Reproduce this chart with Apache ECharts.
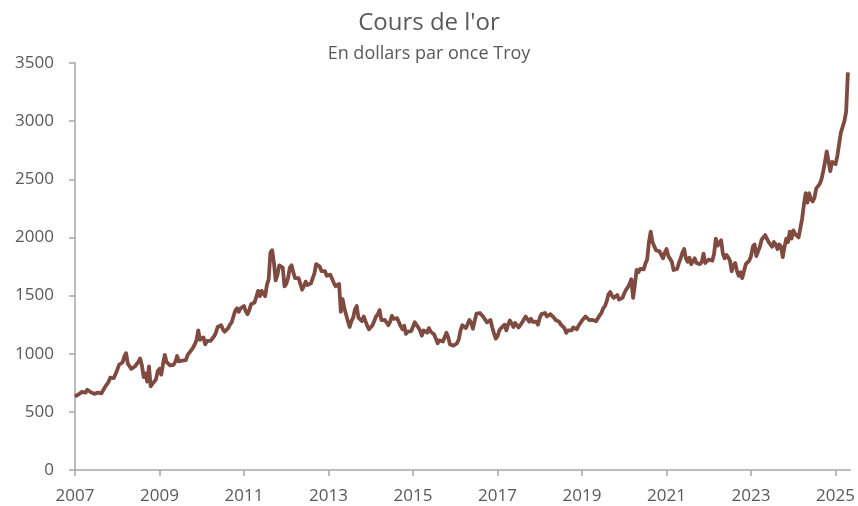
<!DOCTYPE html>
<html>
<head>
<meta charset="utf-8">
<script src="https://cdn.jsdelivr.net/npm/echarts@6/dist/echarts.min.js"></script>
<style>
  html, body { margin: 0; padding: 0; background: #fff; }
  #main { width: 858px; height: 506px; }
</style>
</head>
<body>
<div id="main"></div>
<script>
// cours de l'or, deux relevés par mois (début et milieu de mois), en $/once
const p2007 = [632, 626, 650, 665, 672, 655, 665, 690, 680, 668, 660, 655, 650, 665, 670, 660, 675, 712, 735, 755, 795, 800, 790, 805];
const p2008 = [860, 905, 910, 925, 975, 1005, 915, 920, 870, 880, 890, 880, 930, 960, 900, 800, 830, 760, 890, 720, 740, 740, 780, 850];
const p2009 = [870, 820, 910, 990, 930, 920, 900, 885, 905, 930, 980, 935, 930, 940, 955, 945, 990, 1010, 1000, 1050, 1080, 1115, 1200, 1120];
const p2010 = [1120, 1140, 1080, 1110, 1120, 1110, 1120, 1150, 1180, 1230, 1220, 1245, 1210, 1190, 1185, 1220, 1250, 1270, 1320, 1370, 1390, 1360, 1390, 1390];
const p2011 = [1410, 1365, 1340, 1375, 1425, 1420, 1440, 1490, 1540, 1495, 1540, 1525, 1495, 1590, 1640, 1870, 1890, 1780, 1630, 1680, 1760, 1770, 1740, 1580];
const p2012 = [1600, 1650, 1740, 1760, 1700, 1650, 1640, 1650, 1650, 1550, 1580, 1620, 1590, 1580, 1605, 1615, 1690, 1770, 1775, 1750, 1710, 1720, 1710, 1670];
const p2013 = [1680, 1680, 1670, 1610, 1580, 1590, 1600, 1360, 1470, 1390, 1400, 1280, 1230, 1280, 1310, 1380, 1410, 1310, 1320, 1280, 1320, 1280, 1240, 1210];
const p2014 = [1225, 1245, 1260, 1320, 1340, 1375, 1290, 1300, 1290, 1290, 1245, 1275, 1325, 1300, 1290, 1305, 1270, 1235, 1210, 1240, 1170, 1190, 1200, 1195];
const p2015 = [1185, 1270, 1280, 1225, 1200, 1155, 1200, 1200, 1180, 1220, 1190, 1180, 1165, 1150, 1090, 1115, 1130, 1105, 1115, 1180, 1140, 1080, 1065, 1070];
const p2016 = [1075, 1090, 1125, 1200, 1245, 1235, 1220, 1235, 1290, 1270, 1215, 1280, 1345, 1330, 1350, 1340, 1315, 1320, 1270, 1255, 1290, 1225, 1175, 1130];
const p2017 = [1150, 1200, 1220, 1230, 1250, 1200, 1250, 1285, 1260, 1230, 1265, 1260, 1225, 1230, 1270, 1285, 1320, 1330, 1275, 1300, 1275, 1280, 1275, 1250];
const p2018 = [1310, 1340, 1340, 1350, 1320, 1320, 1340, 1345, 1310, 1290, 1300, 1275, 1250, 1240, 1220, 1180, 1200, 1200, 1200, 1225, 1230, 1210, 1240, 1245];
const p2019 = [1285, 1290, 1320, 1320, 1290, 1300, 1290, 1275, 1280, 1285, 1330, 1350, 1390, 1410, 1450, 1510, 1530, 1500, 1480, 1490, 1505, 1465, 1465, 1480];
const p2020 = [1520, 1550, 1570, 1600, 1640, 1480, 1590, 1720, 1700, 1730, 1740, 1725, 1775, 1810, 1960, 2050, 1960, 1950, 1890, 1900, 1880, 1880, 1820, 1870];
const p2021 = [1900, 1840, 1850, 1790, 1720, 1730, 1730, 1780, 1820, 1870, 1900, 1820, 1790, 1825, 1770, 1785, 1820, 1780, 1765, 1770, 1790, 1860, 1780, 1790];
const p2022 = [1810, 1820, 1800, 1860, 1990, 1930, 1930, 1975, 1860, 1820, 1850, 1830, 1800, 1710, 1760, 1780, 1710, 1670, 1700, 1650, 1640, 1770, 1780, 1800];
const p2023 = [1840, 1920, 1940, 1840, 1840, 1920, 1980, 2000, 2020, 1990, 1960, 1950, 1920, 1960, 1940, 1900, 1940, 1920, 1830, 1920, 1990, 1960, 2050, 1990];
const p2024 = [2060, 2030, 2040, 2000, 2080, 2160, 2280, 2380, 2300, 2380, 2330, 2310, 2340, 2420, 2430, 2460, 2500, 2570, 2650, 2740, 2740, 2570, 2650, 2640];
const p2025 = [2630, 2700, 2800, 2900, 2900, 3000, 3080, 3420];

const startYear = 2007;
const yearTicks = [2007, 2009, 2011, 2013, 2015, 2017, 2019, 2021, 2023, 2025];

const prices = [].concat(p2007, p2008, p2009, p2010, p2011, p2012, p2013, p2014, p2015,
  p2016, p2017, p2018, p2019, p2020, p2021, p2022, p2023, p2024, p2025);
const series = prices.map((v, i) => [startYear + i / 24, v]);

const chart = echarts.init(document.getElementById('main'));
const grey = '#595959';
const axisGrey = '#a6a6a6';
const font = 'Open Sans';

chart.setOption({
  animation: false,
  title: {
    text: "Cours de l'or",
    subtext: 'En dollars par once Troy',
    left: 'center',
    top: 6,
    itemGap: 10,
    textStyle: { fontFamily: font, fontSize: 24, fontWeight: 'normal', color: grey },
    subtextStyle: { fontFamily: font, fontSize: 18, color: grey }
  },
  grid: { left: 75, right: 7, top: 63, bottom: 36 },
  xAxis: {
    type: 'value',
    min: 2007,
    max: 2025.35,
    interval: 2,
    axisLine: { lineStyle: { color: axisGrey, width: 1.5 } },
    axisTick: { length: 6, lineStyle: { color: axisGrey, width: 1.5 } },
    splitLine: { show: false },
    axisLabel: {
      showMaxLabel: false,
      margin: 18,
      fontFamily: font, fontSize: 17, color: grey,
      formatter: v => yearTicks.includes(Math.round(v)) ? String(Math.round(v)) : ''
    }
  },
  yAxis: {
    type: 'value',
    min: 0,
    max: 3500,
    interval: 500,
    axisLine: { show: true, lineStyle: { color: axisGrey, width: 1.5 } },
    axisTick: { show: true, length: 6, lineStyle: { color: axisGrey, width: 1.5 } },
    splitLine: { show: false },
    axisLabel: { margin: 21, fontFamily: font, fontSize: 17, color: grey, formatter: v => String(v) }
  },
  series: [{
    type: 'line',
    data: series,
    showSymbol: false,
    lineStyle: { color: '#7f4a3f', width: 3.8, join: 'round' }
  }]
});
</script>
</body>
</html>
